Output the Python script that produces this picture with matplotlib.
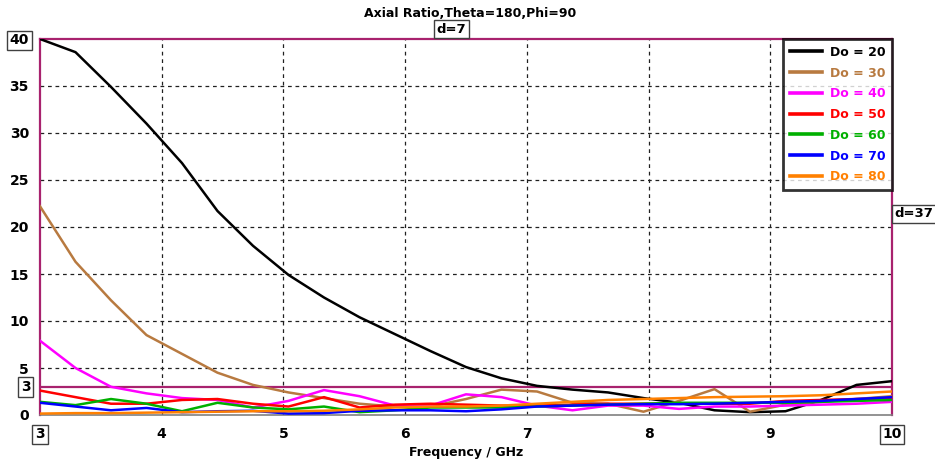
import numpy as np
import matplotlib
matplotlib.use("Agg")
import matplotlib.pyplot as plt

# Frequency sweep (GHz), 25 points from 3 to 10
freq = np.linspace(3, 10, 25)

ar_do20 = [40.0, 38.6, 34.9, 31.0, 26.8, 21.7, 18.0, 14.9, 12.5, 10.4, 8.6, 6.8,
           5.1, 3.9, 3.1, 2.7, 2.4, 1.8, 1.3, 0.5, 0.3, 0.4, 1.6, 3.2, 3.6]
ar_do30 = [22.2, 16.3, 12.2, 8.5, 6.5, 4.5, 3.2, 2.4, 1.8, 1.2, 0.9, 0.9,
           1.7, 2.7, 2.5, 1.3, 1.2, 0.35, 1.5, 2.75, 0.35, 1.1, 1.4, 1.7, 2.0]
ar_do40 = [7.9, 5.0, 3.0, 2.3, 1.8, 1.6, 0.8, 1.5, 2.65, 2.0, 1.0, 1.0,
           2.2, 1.9, 1.0, 0.5, 1.0, 1.0, 0.65, 0.9, 0.9, 1.0, 1.1, 1.2, 1.4]
ar_do50 = [2.6, 1.9, 1.2, 1.2, 1.6, 1.7, 1.2, 0.9, 1.9, 0.8, 1.1, 1.2,
           1.1, 1.0, 1.0, 1.1, 1.2, 1.2, 1.2, 1.2, 1.2, 1.5, 1.6, 1.7, 1.7]
ar_do60 = [1.4, 1.05, 1.7, 1.2, 0.4, 1.3, 0.8, 0.6, 0.9, 0.3, 0.5, 0.8,
           0.8, 0.8, 0.9, 1.0, 1.1, 1.2, 1.3, 1.3, 1.3, 1.3, 1.4, 1.5, 1.6]
ar_do70 = [1.3, 0.9, 0.5, 0.75, 0.3, 0.4, 0.45, 0.15, 0.2, 0.45, 0.5, 0.5,
           0.4, 0.6, 0.9, 1.0, 1.1, 1.15, 1.15, 1.2, 1.3, 1.4, 1.5, 1.7, 1.9]
ar_do80 = [0.15, 0.2, 0.2, 0.25, 0.3, 0.35, 0.4, 0.4, 0.45, 0.6, 0.8, 0.9,
           0.9, 1.0, 1.2, 1.4, 1.6, 1.7, 1.8, 1.9, 1.95, 2.0, 2.1, 2.3, 2.5]

series_labels = ["Do = 20", "Do = 30", "Do = 40", "Do = 50", "Do = 60", "Do = 70", "Do = 80"]
series_colors = ["#000000", "#b87a40", "#ff00ff", "#ff0000", "#00b000", "#0000ff", "#ff8000"]

y_ticks = [0, 5, 10, 15, 20, 25, 30, 35, 40]
x_ticks = [3, 4, 5, 6, 7, 8, 9, 10]
ar_limit = 3

frame_color = "#a8226e"
plt.rcParams["font.family"] = ["DejaVu Sans"]
plt.rcParams["font.weight"] = "bold"

fig = plt.figure(figsize=(9.35, 4.68), dpi=100)
ax = fig.add_axes([40 / 935, 53 / 468, 852 / 935, 376 / 468])

series = [ar_do20, ar_do30, ar_do40, ar_do50, ar_do60, ar_do70, ar_do80]
for vals, lab, col in zip(series, series_labels, series_colors):
    ax.plot(freq, vals, color=col, lw=1.8, label=lab, zorder=3)

ax.set_xlim(3, 10)
ax.set_ylim(0, 40)

# dashed grid
for gx in x_ticks[1:-1]:
    ax.axvline(gx, color="#202020", lw=0.9, ls=(0, (3, 3)), zorder=1)
for gy in y_ticks[1:-1]:
    ax.axhline(gy, color="#202020", lw=0.9, ls=(0, (3, 3)), zorder=1)

# 3 dB limit line
ax.axhline(ar_limit, color=frame_color, lw=1.6, zorder=2)

for side in ("top", "left", "right"):
    ax.spines[side].set_color(frame_color)
    ax.spines[side].set_linewidth(1.6)
ax.spines["bottom"].set_color("#808080")
ax.spines["bottom"].set_linewidth(1.2)

box = dict(boxstyle="square,pad=0.2", fc="white", ec="#404040", lw=1.0)

ax.set_yticks(y_ticks)
ax.set_yticklabels([str(v) for v in y_ticks], fontsize=10, fontweight="bold")
ax.set_xticks(x_ticks)
ax.set_xticklabels([str(v) for v in x_ticks], fontsize=10, fontweight="bold")
ax.tick_params(axis="y", length=0, pad=8)
ax.tick_params(axis="x", length=0, pad=9)
for lbl in ax.get_yticklabels():
    if lbl.get_text() == "40":
        lbl.set_bbox(box)
for lbl in ax.get_xticklabels():
    if lbl.get_text() in ("3", "10"):
        lbl.set_bbox(box)

# boxed marker values
ax.text(-0.011, ar_limit, str(ar_limit), transform=ax.get_yaxis_transform(),
        ha="right", va="center", fontsize=10, fontweight="bold", bbox=box)
ax.text(6.38, 40.35, "d=7", ha="center", va="bottom", fontsize=9.5,
        fontweight="bold", bbox=box, clip_on=False)
ax.text(1.003, 21.4, "d=37", transform=ax.get_yaxis_transform(), ha="left",
        va="center", fontsize=9.5, fontweight="bold", bbox=box, clip_on=False)

ax.set_xlabel("Frequency / GHz", fontsize=9, fontweight="bold", labelpad=3)
fig.text(0.503, 0.972, "Axial Ratio,Theta=180,Phi=90", ha="center", va="center",
         fontsize=9, fontweight="bold")

leg = ax.legend(loc="upper right", fontsize=9, frameon=True, fancybox=False,
                handlelength=2.6, handletextpad=0.6, borderaxespad=0.0,
                labelspacing=0.62, borderpad=0.55)
leg.get_frame().set_edgecolor("black")
leg.get_frame().set_linewidth(2.0)
for txt, col in zip(leg.get_texts(), series_colors):
    txt.set_color(col)
    txt.set_fontweight("bold")
for line in leg.get_lines():
    line.set_linewidth(2.6)

fig.savefig("out.png", dpi=100, facecolor="white")
